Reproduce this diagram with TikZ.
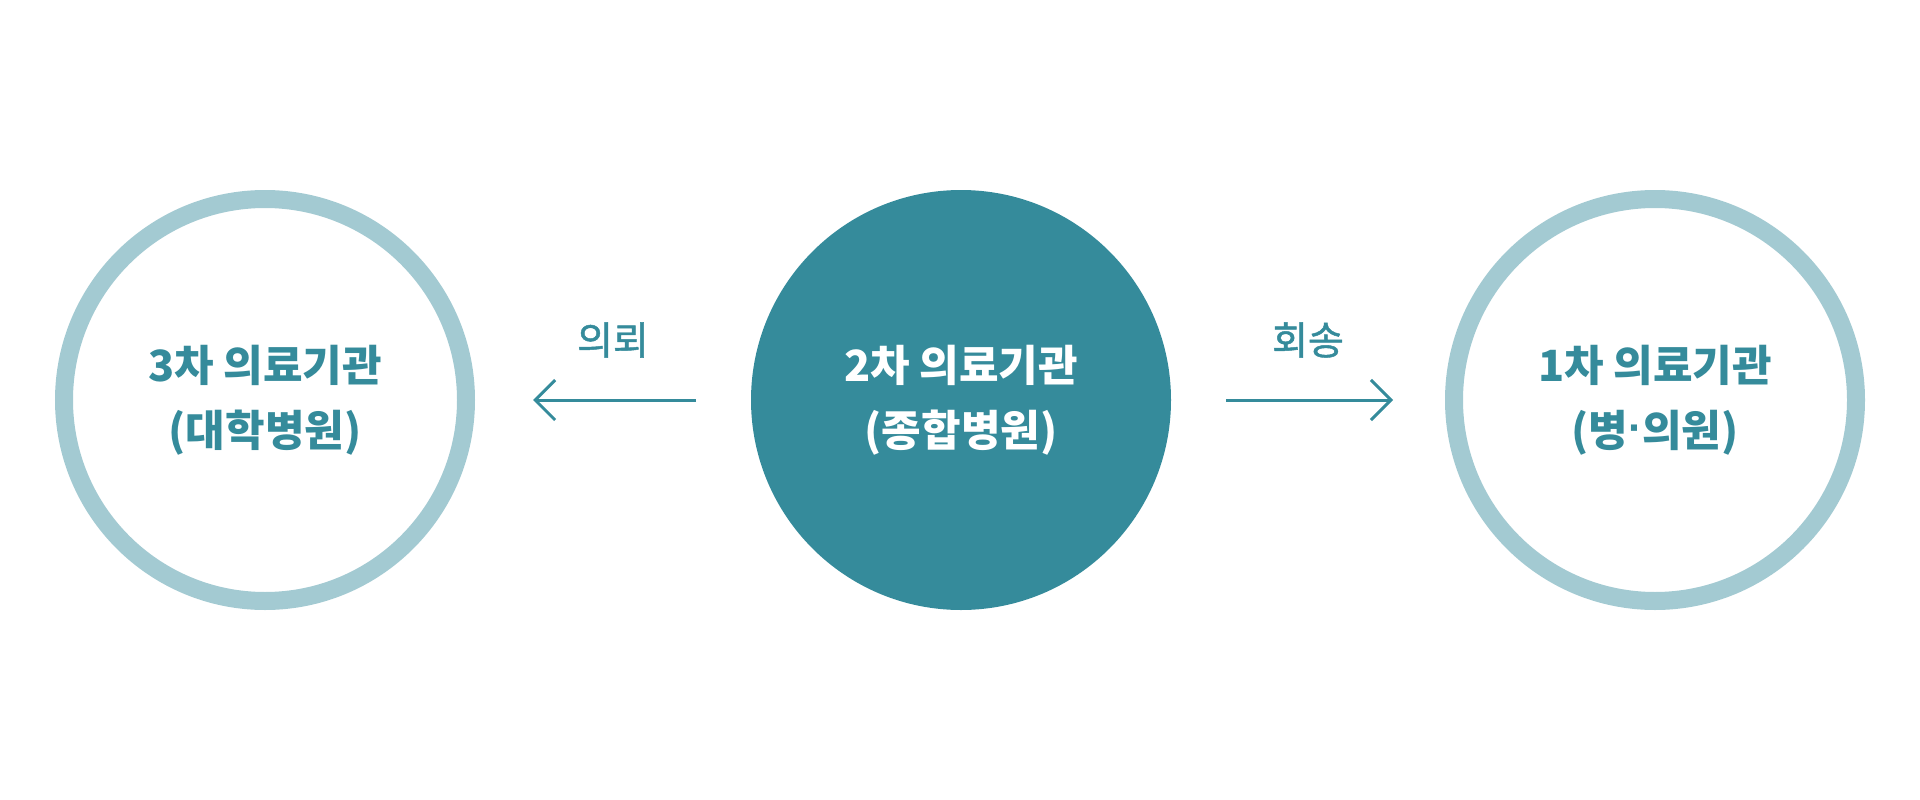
\documentclass[tikz,border=0pt]{standalone}
\usepackage{fontspec}
\setmainfont{Noto Sans CJK KR}
\newfontfamily\lblfont{Noto Sans CJK KR}[FakeBold=1.2]
\newfontfamily\dotfont{Liberation Sans}
\usetikzlibrary{arrows.meta}
\definecolor{teal1}{HTML}{358B9B}
\definecolor{ring1}{HTML}{A3CAD2}
\begin{document}
\begin{tikzpicture}[x=1pt,y=-1pt,
  ringc/.style={circle,draw=ring1,line width=18pt,fill=white,minimum size=402pt,inner sep=0pt,
    text=teal1,font=\fontsize{43}{65}\selectfont\bfseries,align=center},
  fullc/.style={circle,draw=teal1,line width=18pt,fill=teal1,minimum size=402pt,inner sep=0pt,
    text=white,font=\fontsize{43}{65}\selectfont\bfseries,align=center},
  conn/.style={draw=teal1,line width=3pt,-{Straight Barb[length=20pt,width=40pt,line width=3pt]}},
  lbl/.style={text=teal1,font=\lblfont\fontsize{39}{42}\selectfont,inner sep=0pt}]
\useasboundingbox (0,0) rectangle (1920,800);
\node[ringc] (c3) at (265,400) {3차 의료기관\\(대학병원)};
\node[fullc] (c2) at (961,400) {2차 의료기관\\(종합병원)};
\node[ringc] (c1) at (1655,400) {1차 의료기관\\(병\raisebox{0.08em}{\dotfont\bfseries ·}의원)};
\path[conn,shorten <=55pt,shorten >=58pt] (c2) -- (c3) node[lbl,midway,yshift=60pt] (l1) {의뢰};
\path[conn,shorten <=55pt,shorten >=52pt] (c2) -- (c1) node[lbl,midway,yshift=60pt] (l2) {회송};
\end{tikzpicture}
\end{document}
